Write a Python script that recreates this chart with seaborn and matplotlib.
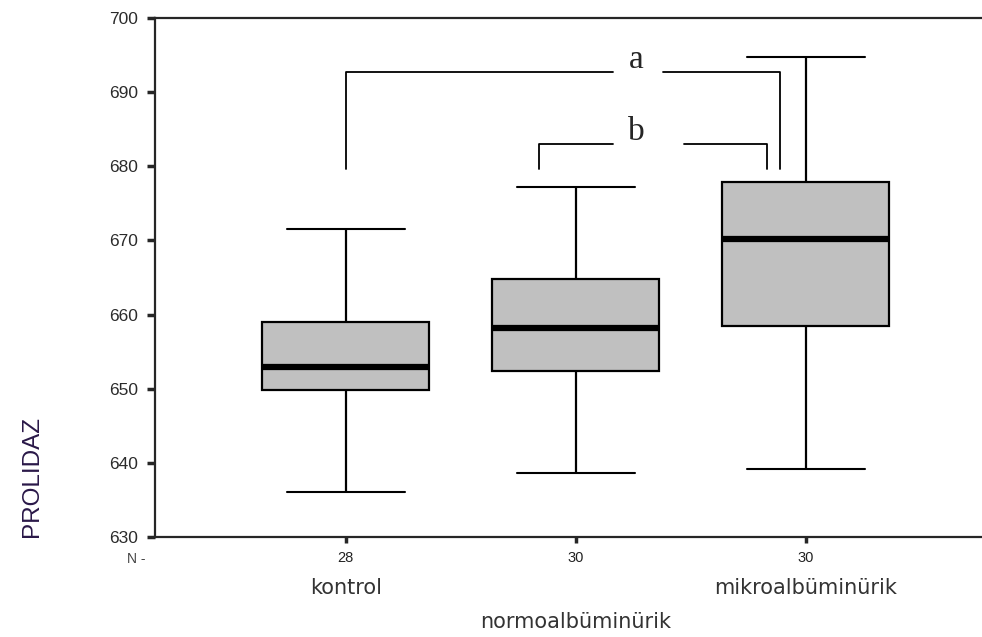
import numpy as np
import pandas as pd
import seaborn as sns
import matplotlib.pyplot as plt
import matplotlib.transforms as mtransforms

# five-number summaries (min, q1, median, q3, max)
groups = ['kontrol', 'normoalbüminürik', 'mikroalbüminürik']
n_counts = ['28', '30', '30']
whisker_low = [636.1, 638.6, 639.2]
q1 = [649.8, 652.4, 658.5]
median = [652.9, 658.2, 670.2]
q3 = [659.0, 664.8, 677.9]
whisker_high = [671.6, 677.2, 694.8]

# significance brackets: (left x, right x, top y, label, gap start, gap end)
brackets = [(0.0, 1.89, 692.7, 'a', 1.16, 1.38), (0.84, 1.83, 683.0, 'b', 1.16, 1.47)]
bracket_bottom = 679.7

# five values per group give exactly these quartiles with whis=(0, 100)
rows = []
for i, g in enumerate(groups):
    for v in (whisker_low[i], q1[i], median[i], q3[i], whisker_high[i]):
        rows.append({'group': g, 'PROLIDAZ': v})
df = pd.DataFrame(rows)

sns.set_style('ticks')
plt.rcParams['font.family'] = ['Liberation Sans', 'DejaVu Sans']

fig = plt.figure(figsize=(9.82, 6.37), dpi=100)
ax = fig.add_axes([155 / 982, 1 - 537 / 637, (992 - 155) / 982, (537 - 18) / 637])

sns.boxplot(data=df, x='group', y='PROLIDAZ', order=groups, whis=(0, 100),
            showfliers=False, color='#c0c0c0', linecolor='black', linewidth=1.6,
            width=0.726, saturation=1, medianprops=dict(linewidth=4.5), ax=ax)

# narrower caps like the original
for cont in ax.containers:
    if hasattr(cont, 'caps'):
        for cap in cont.caps:
            xd = cap.get_xdata()
            c = (xd[0] + xd[1]) / 2
            cap.set_xdata([c - 0.257, c + 0.257])
            cap.set_linewidth(1.5)

ax.set_xlim(-0.83, 2.81)
ax.set_ylim(630, 700)
ax.set_yticks(np.arange(630, 701, 10))
ax.set_xticks(range(len(groups)))
ax.set_xticklabels(n_counts, fontsize=10.5, color='#222222')
ax.tick_params(axis='y', labelsize=12.5, labelcolor='#2b2b2b', length=6, width=2.5, pad=6)
ax.tick_params(axis='x', length=4, width=2.5, pad=6)
ax.set_xlabel('')
ax.set_ylabel('')
for s in ['left', 'top', 'bottom']:
    ax.spines[s].set_linewidth(1.6)
ax.spines['right'].set_visible(False)

# brackets
for x0, x1, ytop, lab, g0, g1 in brackets:
    ax.plot([x0, x0, g0], [bracket_bottom, ytop, ytop], color='black', lw=1.3)
    ax.plot([g1, x1, x1], [ytop, ytop, bracket_bottom], color='black', lw=1.3)
    ax.text(1.265, ytop + 1.7, lab, ha='center', va='center', fontsize=24,
            family='Liberation Serif')

# group names under the counts
trans = mtransforms.blended_transform_factory(ax.transData, fig.transFigure)
label_y = [1 - 588 / 637, 1 - 622 / 637, 1 - 588 / 637]
for i, g in enumerate(groups):
    ax.text(i, label_y[i], g, transform=trans, ha='center', va='center',
            fontsize=15, color='#333333', family=['DejaVu Sans'])

fig.text(136 / 982, 1 - 559 / 637, 'N -', ha='center', va='center', fontsize=10,
         color='#444444')
fig.text(32 / 982, 1 - 537 / 637, 'PROLIDAZ', rotation=90, ha='center', va='bottom',
         fontsize=17.5, color='#2a1848')

fig.savefig('out.png', dpi=100)
